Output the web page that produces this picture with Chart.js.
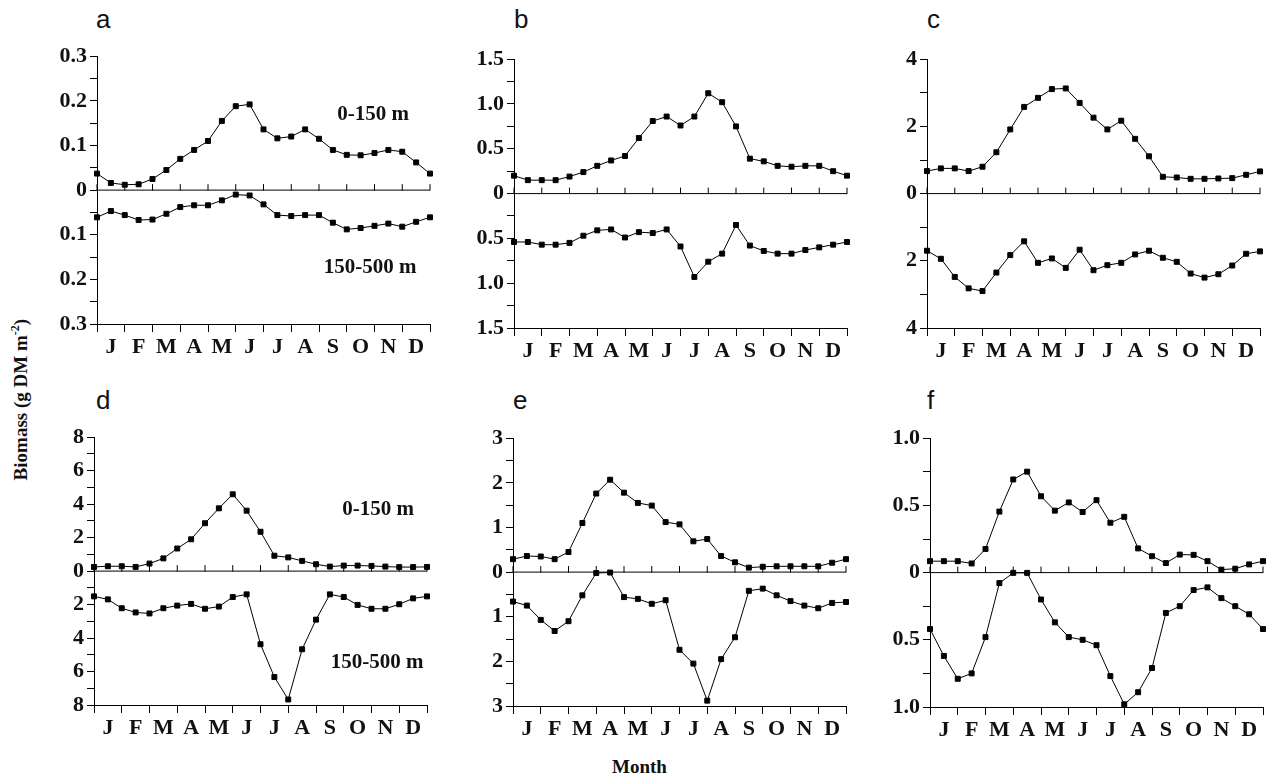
<!DOCTYPE html>
<html>
<head>
<meta charset="utf-8">
<script src="https://cdn.jsdelivr.net/npm/chart.js@4"></script>
<style>
  body { margin: 0; width: 1267px; height: 780px; background: #fff; position: relative; overflow: hidden; }
  canvas { position: absolute; }
  .lt { position: absolute; font-family: "Liberation Sans", Arial, sans-serif; font-size: 26px; color: #111; }
  .tt { position: absolute; font-family: "Liberation Serif", serif; font-weight: bold; font-size: 19px; color: #111; }
</style>
</head>
<body>
<div class="lt" style="left:96px;top:4px">a</div>
<div class="lt" style="left:514px;top:4px">b</div>
<div class="lt" style="left:927px;top:4px">c</div>
<div class="lt" style="left:96px;top:385px">d</div>
<div class="lt" style="left:513px;top:385px">e</div>
<div class="lt" style="left:927px;top:385px">f</div>
<div class="tt" style="left:-100px;top:388px;width:240px;text-align:center;transform:rotate(-90deg);white-space:nowrap">Biomass (g DM m<sup style="font-size:12px">-2</sup>)</div>
<div class="tt" style="left:612px;top:756px">Month</div>

<script>
const months = ['J', 'F', 'M', 'A', 'M', 'J', 'J', 'A', 'S', 'O', 'N', 'D'];

const aUpper = [0.037,0.016,0.012,0.013,0.025,0.045,0.07,0.09,0.11,0.155,0.188,0.192,0.136,0.116,0.12,0.136,0.115,0.09,0.079,0.078,0.083,0.09,0.086,0.062,0.037];
const aLower = [0.061,0.047,0.056,0.067,0.066,0.053,0.038,0.034,0.034,0.023,0.010,0.012,0.032,0.056,0.058,0.056,0.056,0.073,0.088,0.085,0.080,0.075,0.082,0.071,0.061];
const bUpper = [0.20,0.15,0.15,0.15,0.19,0.24,0.31,0.37,0.42,0.62,0.81,0.86,0.76,0.86,1.12,1.02,0.75,0.39,0.36,0.31,0.30,0.31,0.31,0.25,0.20];
const bLower = [0.54,0.54,0.57,0.57,0.55,0.47,0.41,0.40,0.49,0.43,0.44,0.40,0.59,0.93,0.76,0.67,0.35,0.58,0.64,0.67,0.67,0.63,0.60,0.57,0.54];
const cUpper = [0.67,0.75,0.75,0.67,0.80,1.23,1.91,2.58,2.85,3.11,3.13,2.70,2.26,1.91,2.17,1.63,1.11,0.50,0.48,0.44,0.44,0.45,0.46,0.56,0.66];
const cLower = [1.70,1.94,2.48,2.82,2.90,2.35,1.83,1.42,2.06,1.93,2.21,1.67,2.28,2.13,2.06,1.81,1.70,1.91,2.03,2.38,2.50,2.40,2.14,1.79,1.72];
const dUpper = [0.25,0.29,0.29,0.25,0.45,0.76,1.35,1.90,2.86,3.75,4.59,3.61,2.35,0.92,0.82,0.61,0.41,0.27,0.33,0.33,0.31,0.27,0.24,0.24,0.25];
const dLower = [1.51,1.69,2.22,2.47,2.53,2.22,2.06,1.96,2.25,2.12,1.55,1.39,4.37,6.33,7.67,4.67,2.90,1.39,1.55,2.02,2.25,2.25,1.98,1.63,1.51];
const eUpper = [0.29,0.36,0.35,0.29,0.45,1.10,1.76,2.07,1.78,1.55,1.49,1.12,1.07,0.69,0.74,0.36,0.22,0.10,0.12,0.13,0.13,0.13,0.13,0.21,0.29];
const eLower = [0.66,0.75,1.07,1.32,1.10,0.52,0.02,0.01,0.56,0.60,0.71,0.63,1.74,2.05,2.88,1.95,1.46,0.42,0.37,0.52,0.65,0.75,0.81,0.69,0.67];
const fUpper = [0.085,0.085,0.085,0.068,0.176,0.454,0.693,0.751,0.568,0.461,0.522,0.451,0.539,0.371,0.415,0.180,0.122,0.071,0.134,0.132,0.085,0.022,0.029,0.061,0.085];
const fLower = [0.42,0.62,0.79,0.75,0.48,0.078,0.002,0.002,0.20,0.37,0.48,0.50,0.54,0.77,0.98,0.89,0.71,0.30,0.25,0.13,0.11,0.19,0.25,0.31,0.42];

const serif = '"Liberation Serif", "Times New Roman", serif';

// zero line with its own tick marks, and the depth-layer labels
const zeroLine = {
  id: 'zeroLine',
  beforeDatasetsDraw(chart, args, opts) {
    const { ctx, chartArea, scales } = chart;
    const y0 = scales.y.getPixelForValue(0);
    ctx.save();
    ctx.strokeStyle = '#000';
    ctx.lineWidth = 1;
    ctx.beginPath();
    ctx.moveTo(chartArea.left, y0);
    ctx.lineTo(chartArea.right, y0);
    for (let i = 0; i <= 24; i += 2) {
      const x = scales.x.getPixelForValue(i);
      ctx.moveTo(x, y0 + 0.5);
      ctx.lineTo(x, y0 - 6);
    }
    ctx.stroke();
    if (opts.labels) {
      ctx.fillStyle = '#111';
      ctx.font = 'bold 21px ' + serif;
      ctx.textAlign = 'center';
      ctx.textBaseline = 'middle';
      opts.labels.forEach(l => ctx.fillText(l.text, l.x - chart.canvas.offsetLeft, l.y - chart.canvas.offsetTop));
    }
    ctx.restore();
  }
};

function makePanel(L, T, R, B, upper, lower, max, major, minor, dec, labels) {
  const cv = document.createElement('canvas');
  const padL = 62, padT = 12, padR = 8, padB = 45;
  const w = R - L + padL + padR, h = B - T + padT + padB;
  cv.style.left = (L - padL) + 'px';
  cv.style.top = (T - padT) + 'px';
  cv.style.width = w + 'px';
  cv.style.height = h + 'px';
  cv.width = w; cv.height = h;
  document.body.appendChild(cv);
  const pts = v => v.map((y, i) => ({ x: i, y: y }));
  const ds = d => ({
    data: d, borderColor: '#000', borderWidth: 1, backgroundColor: '#000',
    pointStyle: 'rect', pointRadius: 3.5, pointHoverRadius: 3.5, clip: false, tension: 0
  });
  new Chart(cv, {
    type: 'line',
    data: { datasets: [ds(pts(upper)), ds(pts(lower.map(v => -v)))] },
    options: {
      responsive: false, animation: false,
      layout: { padding: { top: padT, right: padR, left: 0, bottom: 0 } },
      plugins: { legend: { display: false }, tooltip: { enabled: false }, zeroLine: { labels: labels } },
      scales: {
        x: {
          type: 'linear', min: 0, max: 24,
          afterFit: s => { s.height = padB; },
          border: { color: '#000', width: 1 },
          grid: { drawOnChartArea: false, tickLength: 8, tickColor: c => c.tick.value % 2 === 0 ? '#000' : 'rgba(0,0,0,0)' },
          ticks: {
            stepSize: 1, autoSkip: false, maxRotation: 0, color: '#111', padding: 2,
            font: { family: serif, weight: 'bold', size: 22 },
            callback: v => v % 2 === 1 ? months[(v - 1) / 2] : ''
          }
        },
        y: {
          min: -max, max: max,
          afterFit: s => { s.width = padL; },
          border: { color: '#000', width: 1 },
          grid: { drawOnChartArea: false, tickLength: 7, tickColor: '#000' },
          ticks: {
            stepSize: minor, autoSkip: false, color: '#111', padding: 3,
            font: { family: serif, weight: 'bold', size: 22 },
            callback: v => {
              const a = Math.abs(v);
              const r = a / major;
              if (Math.abs(r - Math.round(r)) > 1e-6) return '';
              if (a < 1e-9) return '0';
              return a.toFixed(dec);
            }
          }
        }
      }
    },
    plugins: [zeroLine]
  });
}

makePanel(97, 52, 430, 324, aUpper, aLower, 0.3, 0.1, 0.05, 1,
  [{ text: '0-150 m', x: 373, y: 115 }, { text: '150-500 m', x: 370, y: 268 }]);
makePanel(514, 55, 847, 328, bUpper, bLower, 1.5, 0.5, 0.25, 1);
makePanel(927, 55, 1260, 328, cUpper, cLower, 4, 2, 1, 0);
makePanel(94, 433, 427, 705, dUpper, dLower, 8, 2, 1, 0,
  [{ text: '0-150 m', x: 378, y: 510 }, { text: '150-500 m', x: 377, y: 663 }]);
makePanel(513, 434, 846, 706, eUpper, eLower, 3, 1, 0.5, 0);
makePanel(930, 434, 1263, 707, fUpper, fLower, 1.0, 0.5, 0.25, 1);
</script>
</body>
</html>
